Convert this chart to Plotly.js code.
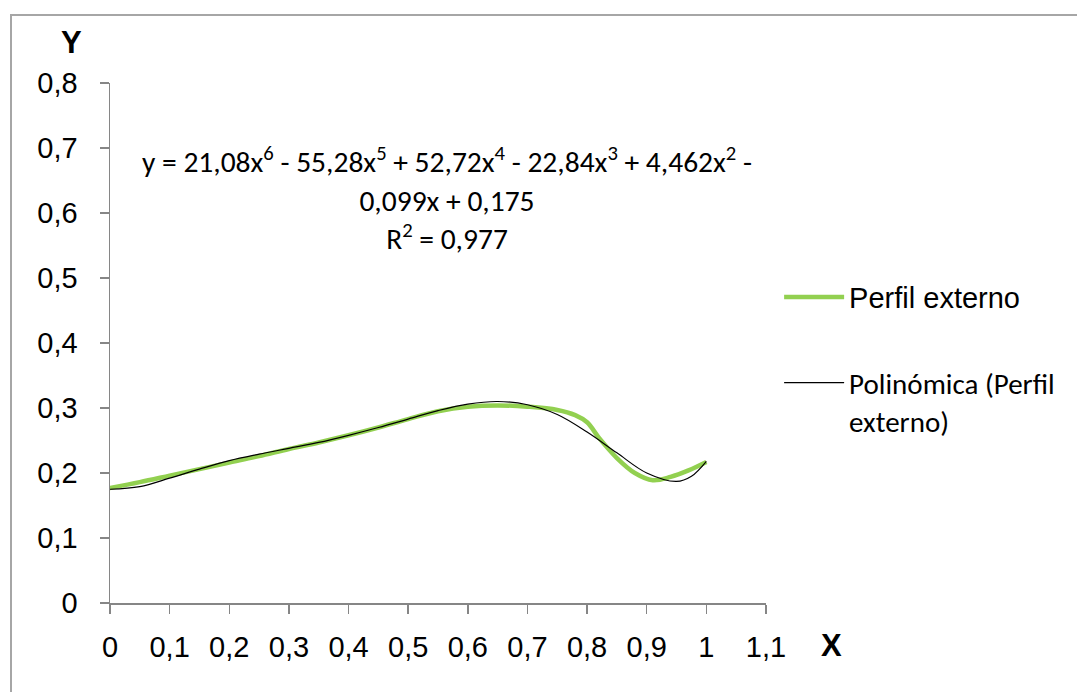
<!DOCTYPE html>
<html><head><meta charset="utf-8">
<script src="https://cdn.plot.ly/plotly-3.0.1.min.js"></script>
<style>
html,body{margin:0;padding:0;overflow:hidden;background:#fff}
#frame{position:absolute;left:10px;top:14px;width:2000px;height:2000px;border-left:2px solid #a6a6a6;border-top:2px solid #a6a6a6;pointer-events:none}
</style></head><body>
<div id="chart" style="width:1077px;height:692px"></div>
<div id="frame"></div>
<script>
// Perfil externo
const profileX = [0, 0.05, 0.1, 0.15, 0.2, 0.25, 0.3, 0.35, 0.4, 0.45, 0.5, 0.55, 0.6, 0.65, 0.7, 0.75, 0.78, 0.8, 0.82, 0.85, 0.88, 0.91, 0.94, 0.97, 1.0];
const profileY = [0.177, 0.186, 0.196, 0.206, 0.216, 0.226, 0.237, 0.247, 0.258, 0.270, 0.283, 0.295, 0.302, 0.304, 0.302, 0.297, 0.289, 0.278, 0.254, 0.223, 0.200, 0.189, 0.194, 0.204, 0.217];
// Polinómica (Perfil externo) trendline
const trendX = [0, 0.05, 0.1, 0.15, 0.2, 0.25, 0.3, 0.35, 0.4, 0.45, 0.5, 0.55, 0.6, 0.65, 0.7, 0.75, 0.8, 0.85, 0.9, 0.95, 0.975, 1.0];
const trendY = [0.175, 0.179, 0.192, 0.206, 0.219, 0.229, 0.238, 0.247, 0.258, 0.270, 0.283, 0.296, 0.306, 0.310, 0.305, 0.290, 0.263, 0.231, 0.200, 0.187, 0.195, 0.218];
const seriesNames = ["Perfil externo", "Polinómica (Perfil<br>externo)"];
const equationLines = ["y = 21,08x<sup>6</sup> - 55,28x<sup>5</sup> + 52,72x<sup>4</sup> - 22,84x<sup>3</sup> + 4,462x<sup>2</sup> -", "0,099x + 0,175", "R<sup>2</sup> = 0,977"];
const xRange = [0, 1.1];
const yRange = [0, 0.8];

const arial = "Liberation Sans, Arial, sans-serif";
const calibri = "Carlito, Lato, sans-serif";
const axisColor = "#868686";

const traces = [
  {x: profileX, y: profileY, type: "scatter", mode: "lines", name: seriesNames[0], showlegend: true,
   line: {color: "#92d050", width: 4.5, shape: "spline", smoothing: 1}, legend: "legend"},
  {x: trendX, y: trendY, type: "scatter", mode: "lines", name: seriesNames[1], showlegend: true,
   line: {color: "#000000", width: 1.2, shape: "spline", smoothing: 1}, legend: "legend2"}
];

const axisCommon = {
  showgrid: false, zeroline: false, showline: true, linecolor: axisColor, linewidth: 1.5,
  ticks: "outside", ticklen: 9, tickwidth: 1.5, tickcolor: axisColor,
  tickfont: {family: arial, size: 29, color: "#000"}, fixedrange: true
};

const layout = {
  width: 1077, height: 692,
  margin: {l: 110, r: 311, t: 83, b: 89},
  paper_bgcolor: "#fff", plot_bgcolor: "#fff",
  separators: ",.",
  showlegend: true,
  xaxis: Object.assign({}, axisCommon, {range: xRange, dtick: 0.1, tick0: 0, ticklabelstandoff: 9}),
  yaxis: Object.assign({}, axisCommon, {range: yRange, dtick: 0.1, tick0: 0, ticklabelstandoff: 16}),
  legend: {visible: true, x: 1.02, xanchor: "left", y: 0.588, yanchor: "middle", bgcolor: "rgba(0,0,0,0)",
           font: {family: arial, size: 29, color: "#000"}, itemwidth: 60},
  legend2: {visible: true, x: 1.02, xanchor: "left", y: 0.387, yanchor: "middle", bgcolor: "rgba(0,0,0,0)", valign: "top",
           font: {family: calibri, size: 29, color: "#000"}, itemwidth: 60},
  annotations: [
    {text: equationLines.join("<br>"), xref: "paper", yref: "paper", x: 0.5137, y: 0.777,
     xanchor: "center", yanchor: "middle", align: "center", showarrow: false,
     font: {family: calibri, size: 29.5, color: "#000"}},
    {text: "<b>Y</b>", xref: "paper", yref: "paper", x: -0.058, y: 1.077, xanchor: "center", yanchor: "middle",
     showarrow: false, font: {family: arial, size: 31, color: "#000"}},
    {text: "<b>X</b>", xref: "paper", yref: "paper", x: 1.1006, y: -0.0808, xanchor: "center", yanchor: "middle",
     showarrow: false, font: {family: arial, size: 31, color: "#000"}}
  ]
};

Plotly.newPlot("chart", traces, layout, {displayModeBar: false, staticPlot: true});
</script>
</body></html>
